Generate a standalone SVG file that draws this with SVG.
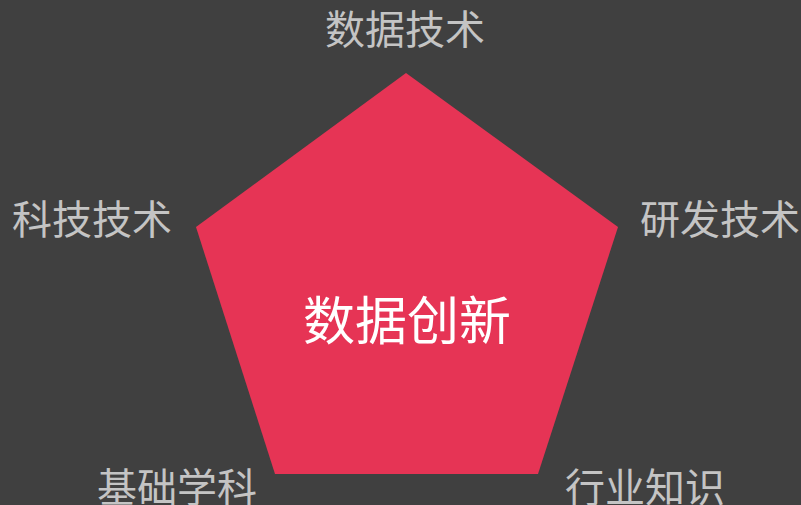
<svg xmlns="http://www.w3.org/2000/svg" width="801" height="505" viewBox="0 0 801 505">
<style>
.lbl{font-family:"Noto Sans CJK SC","Liberation Sans",sans-serif;font-size:40px;fill:#C4C4C4}
.ctr{font-family:"Noto Sans CJK SC","Liberation Sans",sans-serif;font-size:52px;fill:#FFFFFF}
</style>
<rect width="801" height="505" fill="#404040"/>
<g id="pentagon">
<polygon points="406,73 618,227 538,474 275,474 196,227" fill="#E63455"/>
<text class="ctr" x="407" y="340" text-anchor="middle">数据创新</text>
</g>
<g id="connectors"></g>
<g id="n-top"><text class="lbl" x="405" y="44" text-anchor="middle">数据技术</text></g>
<g id="n-left"><text class="lbl" x="92" y="234" text-anchor="middle">科技技术</text></g>
<g id="n-right"><text class="lbl" x="720" y="234" text-anchor="middle">研发技术</text></g>
<g id="n-bl"><text class="lbl" x="177" y="502" text-anchor="middle">基础学科</text></g>
<g id="n-br"><text class="lbl" x="645" y="502" text-anchor="middle">行业知识</text></g>
</svg>
